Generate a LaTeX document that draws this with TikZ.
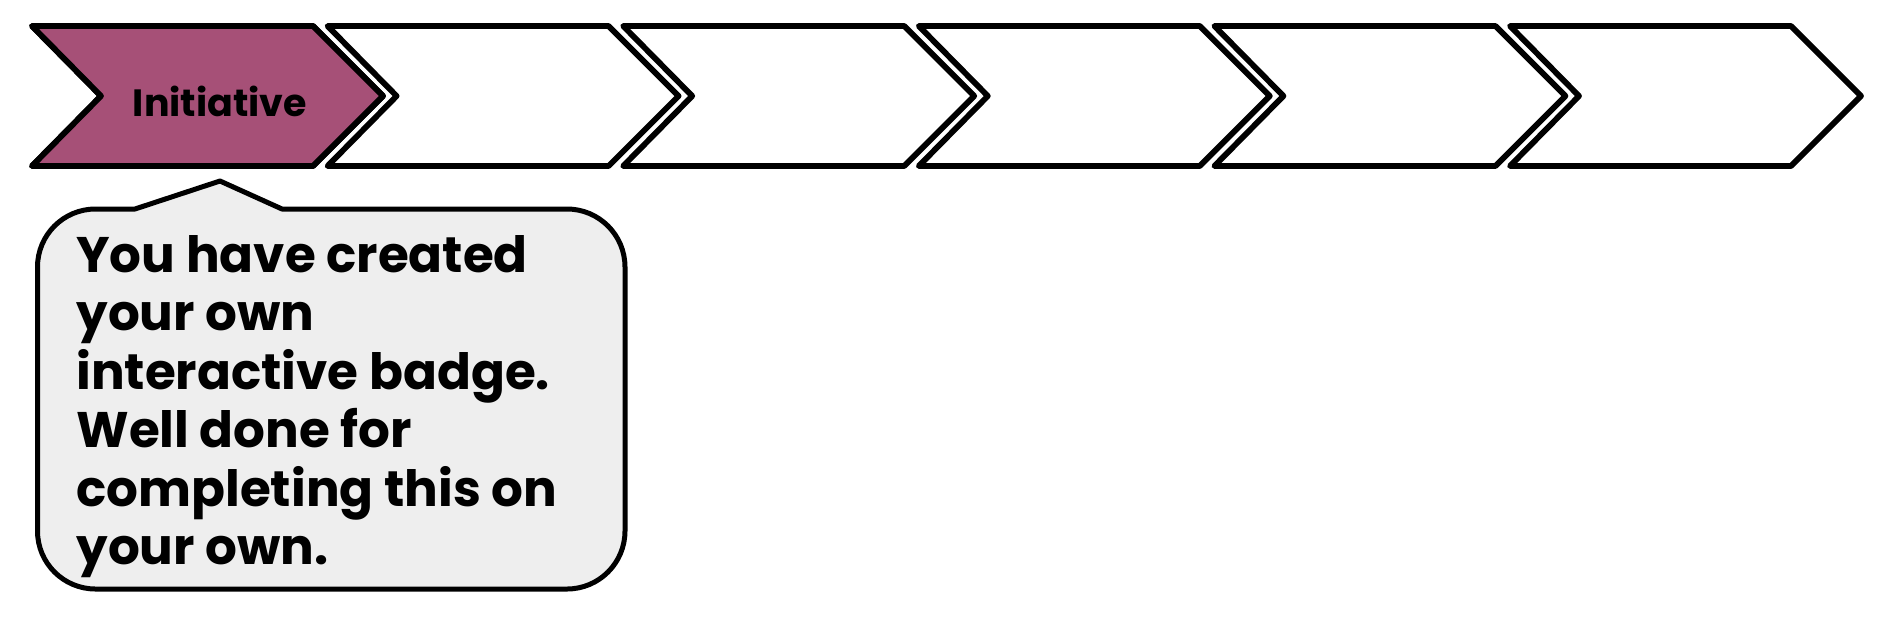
\documentclass[tikz,border=0pt]{standalone}
\usepackage{fontspec}
\setmainfont{Poppins}
\definecolor{chevpurple}{HTML}{A65077}
\definecolor{calloutgray}{HTML}{EEEEEE}
\begin{document}
\begin{tikzpicture}[x=0.5pt,y=-0.5pt,line join=round,
  chev/.style={draw=black,line width=2.9pt,fill=white},
  callout/.style={draw=black,line width=2.5pt,fill=calloutgray},
  lbl/.style={font=\bfseries\fontsize{19}{22}\selectfont,inner sep=0pt},
  bodytext/.style={font=\bfseries\fontsize{25}{29.2}\selectfont,align=left,inner sep=0pt}]
\useasboundingbox (0,0) rectangle (1896,618);
\foreach \i in {0,...,5} {
  \pgfmathsetmacro\xo{32+295.6*\i}
  \coordinate (c\i) at (\xo,26);
  \draw[chev] (c\i) -- ++(281,0) -- ++(70,70) -- ++(-70,70) -- ++(-281,0) -- ++(69,-70) -- cycle;
}
\draw[chev,fill=chevpurple] (c0) -- ++(281,0) -- ++(70,70) -- ++(-70,70) -- ++(-281,0) -- ++(69,-70) -- cycle;
\node[lbl] (init) at (220,101) {Initiative};
\coordinate (tipA) at (135,209);
\coordinate (apex) at (220,181);
\coordinate (tipB) at (282,209);
\draw[callout] (tipB) -- (567,209) arc[start angle=-90,end angle=0,radius=58]
  -- (625,531) arc[start angle=0,end angle=90,radius=58]
  -- (95.5,589) arc[start angle=90,end angle=180,radius=58]
  -- (37.5,267) arc[start angle=180,end angle=270,radius=58]
  -- (tipA) -- (apex) -- cycle;
\node[bodytext,anchor=north west] (msg) at (76,235) {You have created\\your own\\interactive badge.\\Well done for\\completing this on\\your own.};
\end{tikzpicture}
\end{document}
